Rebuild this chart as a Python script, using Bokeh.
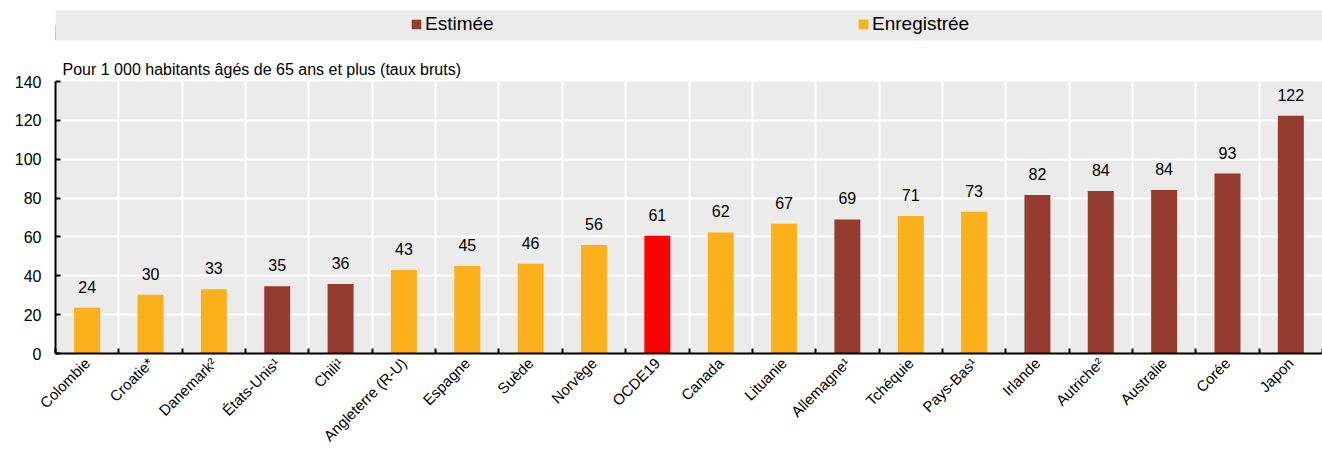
from bokeh.plotting import figure
from bokeh.layouts import column
from bokeh.models import (ColumnDataSource, FixedTicker, Range1d, Legend, LegendItem, LabelSet)
from bokeh.core.properties import value
from bokeh.embed import file_html
from bokeh.resources import INLINE
import math

countries = ["Colombie", "Croatie*", "Danemark²", "États-Unis¹", "Chili¹", "Angleterre (R-U)",
             "Espagne", "Suède", "Norvège", "OCDE19", "Canada", "Lituanie", "Allemagne¹",
             "Tchéquie", "Pays-Bas¹", "Irlande", "Autriche²", "Australie", "Corée", "Japon"]
values = [23.6, 30.2, 33.1, 34.6, 35.8, 43.0, 45.0, 46.2, 55.8, 60.6,
          62.3, 66.8, 69.0, 70.8, 73.0, 81.6, 83.6, 84.2, 92.6, 122.4]
kinds = ["Enregistrée", "Enregistrée", "Enregistrée", "Estimée", "Estimée", "Enregistrée",
         "Enregistrée", "Enregistrée", "Enregistrée", "OCDE", "Enregistrée", "Enregistrée",
         "Estimée", "Enregistrée", "Enregistrée", "Estimée", "Estimée", "Estimée", "Estimée", "Estimée"]
y_ticks = [0, 20, 40, 60, 80, 100, 120, 140]
subtitle = "Pour 1 000 habitants âgés de 65 ans et plus (taux bruts)"

FONT = "Liberation Sans"
BG = "#EBEBEB"
COL_EST = "#953B30"
COL_ENR = "#FCB01C"
COL_OCDE = "#FF0000"

n = len(countries)
centers = [i + 0.5 for i in range(n)]
bounds = list(range(n + 1))

def src(kind):
    idx = [i for i in range(n) if kinds[i] == kind]
    return ColumnDataSource(dict(x=[centers[i] for i in idx], top=[values[i] for i in idx]))

W = 1322
LEFT = 55

# ---- legend band ----
top = figure(width=W, height=48, output_backend="svg", toolbar_location=None,
             x_range=Range1d(0, 1), y_range=Range1d(0, 1),
             x_axis_location=None, y_axis_location=None,
             min_border_left=LEFT, min_border_right=0, min_border_top=10, min_border_bottom=8)
top.background_fill_color = BG
top.border_fill_color = "white"
top.outline_line_color = None
top.grid.visible = False
r_est_l = top.vbar(x=[-10], top=[0.5], width=0.5, fill_color=COL_EST, line_color=None)
r_enr_l = top.vbar(x=[-10], top=[0.5], width=0.5, fill_color=COL_ENR, line_color=None)
legend = Legend(items=[LegendItem(label="Estimée", renderers=[r_est_l]),
                       LegendItem(label="Enregistrée", renderers=[r_enr_l])],
                orientation="horizontal", location=(355, 5),
                padding=0, margin=0, spacing=12, glyph_width=12, glyph_height=12,
                label_width=420, label_height=20, label_standoff=3,
                label_text_font=FONT, label_text_font_size="19px", label_text_color="black",
                background_fill_alpha=0, border_line_color=None)
top.add_layout(legend, "center")

# ---- main chart ----
p = figure(width=W, height=405, output_backend="svg", toolbar_location=None,
           x_range=Range1d(0, n), y_range=Range1d(0, 140),
           min_border_left=LEFT, min_border_right=0, min_border_top=33, min_border_bottom=99)
p.background_fill_color = BG
p.border_fill_color = "white"
p.outline_line_color = None

p.title.text = subtitle
p.title.align = "left"
p.title.offset = 7
p.title.standoff = 8
p.title.text_font = FONT
p.title.text_font_size = "16px"
p.title.text_font_style = "normal"
p.title.text_color = "black"

for kind, col in [("Enregistrée", COL_ENR), ("Estimée", COL_EST), ("OCDE", COL_OCDE)]:
    p.vbar(x="x", top="top", width=0.41, source=src(kind), fill_color=col, line_color=None)

lab_src = ColumnDataSource(dict(x=centers, y=values, t=[str(round(v)) for v in values]))
p.add_layout(LabelSet(x="x", y="y", text="t", source=lab_src, text_align="center",
                      text_baseline="bottom", y_offset=15, text_font=value(FONT),
                      text_font_size=value("16px"), text_color="black"))

# axes
xa = p.xaxis[0]
xa.ticker = FixedTicker(ticks=centers, minor_ticks=bounds)
xa.major_label_overrides = {c: name for c, name in zip(centers, countries)}
xa.major_label_orientation = math.pi / 4
xa.major_tick_in = 0
xa.major_tick_out = 0
xa.minor_tick_in = 5
xa.minor_tick_out = 0
xa.minor_tick_line_color = "black"
xa.minor_tick_line_width = 2
xa.axis_line_color = "black"
xa.axis_line_width = 2
xa.major_label_text_font = FONT
xa.major_label_text_font_size = "15px"
xa.major_label_text_color = "black"
xa.major_label_standoff = 7

ya = p.yaxis[0]
ya.ticker = FixedTicker(ticks=y_ticks)
ya.major_tick_in = 5
ya.major_tick_out = 0
ya.major_tick_line_color = "black"
ya.major_tick_line_width = 2
ya.minor_tick_line_color = None
ya.axis_line_color = "black"
ya.axis_line_width = 2
ya.major_label_text_font = FONT
ya.major_label_text_font_size = "16px"
ya.major_label_text_color = "black"
ya.major_label_standoff = 14

p.xgrid.ticker = FixedTicker(ticks=bounds)
p.xgrid.grid_line_color = "white"
p.xgrid.grid_line_width = 2
p.ygrid.ticker = FixedTicker(ticks=y_ticks)
p.ygrid.grid_line_color = "white"
p.ygrid.grid_line_width = 2

layout = column(top, p, spacing=0)
open("out.html", "w").write(file_html(layout, INLINE))
